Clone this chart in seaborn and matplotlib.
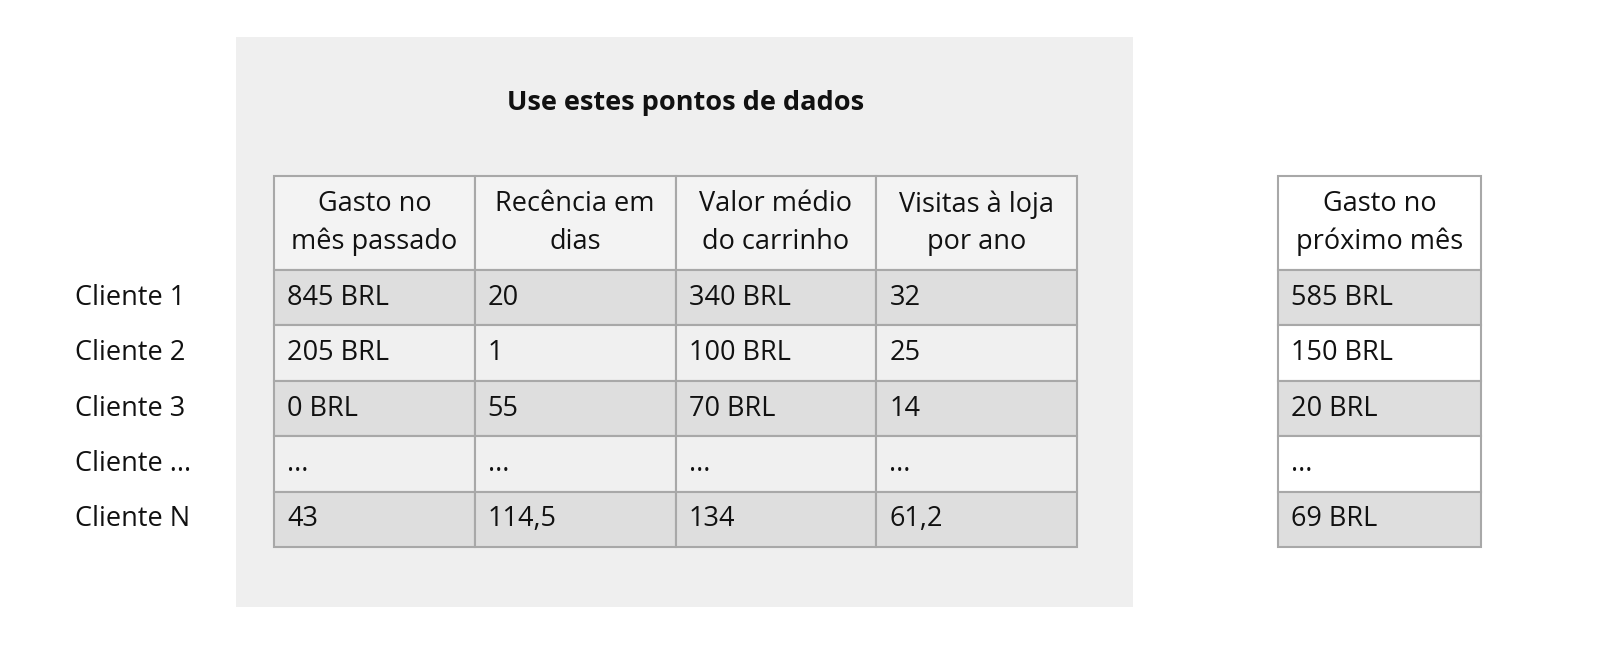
import matplotlib.pyplot as plt
import seaborn as sns
from matplotlib.patches import Rectangle

# dados
titulo = "Use estes pontos de dados"
colunas = ["Gasto no\nmês passado", "Recência em\ndias", "Valor médio\ndo carrinho", "Visitas à loja\npor ano"]
clientes = ["Cliente 1", "Cliente 2", "Cliente 3", "Cliente ...", "Cliente N"]
gasto_passado = ["845 BRL", "205 BRL", "0 BRL", "...", "43"]
recencia = ["20", "1", "55", "...", "114,5"]
valor_medio = ["340 BRL", "100 BRL", "70 BRL", "...", "134"]
visitas = ["32", "25", "14", "...", "61,2"]
alvo_coluna = "Gasto no\npróximo mês"
gasto_proximo = ["585 BRL", "150 BRL", "20 BRL", "...", "69 BRL"]

sns.set_theme(style="white")
plt.rcParams['font.family'] = ['Open Sans', 'DejaVu Sans']

fig = plt.figure(figsize=(16.09, 6.56), dpi=100)
ax = fig.add_axes([0, 0, 1, 1])
ax.set_xlim(0, 1609)
ax.set_ylim(656, 0)
ax.axis('off')

fs = 19.5
edge = '#a8a8a8'
dark = '#dedede'
light = '#f0f0f0'

# painel cinza
ax.add_patch(Rectangle((236, 37), 897, 570, facecolor='#efefef', edgecolor='none'))
ax.text(686, 103, titulo, ha='center', va='center', fontsize=fs, fontweight='bold', color='#111111')

header_top, header_h = 176, 94
row_h = 55.4

def tabela(x0, col_w, headers, cols, head_bg, odd_bg, even_bg):
    for j, h in enumerate(headers):
        x = x0 + j * col_w
        ax.add_patch(Rectangle((x, header_top), col_w, header_h, facecolor=head_bg, edgecolor=edge, lw=1.5))
        ax.text(x + col_w / 2, header_top + header_h / 2, h, ha='center', va='center',
                fontsize=fs, linespacing=1.45, color='#111111')
        for i, v in enumerate(cols[j]):
            y = header_top + header_h + i * row_h
            bg = odd_bg if i % 2 == 0 else even_bg
            ax.add_patch(Rectangle((x, y), col_w, row_h, facecolor=bg, edgecolor=edge, lw=1.5))
            ax.text(x + 13, y + row_h / 2, v, ha='left', va='center', fontsize=fs, color='#111111')

tabela(274, 200.8, colunas, [gasto_passado, recencia, valor_medio, visitas], '#f3f3f3', dark, light)
tabela(1278, 203, [alvo_coluna], [gasto_proximo], '#ffffff', dark, '#ffffff')

for i, c in enumerate(clientes):
    y = header_top + header_h + i * row_h + row_h / 2
    ax.text(75, y, c, ha='left', va='center', fontsize=fs, color='#111111')

fig.savefig('out.png', dpi=100, facecolor='white')
